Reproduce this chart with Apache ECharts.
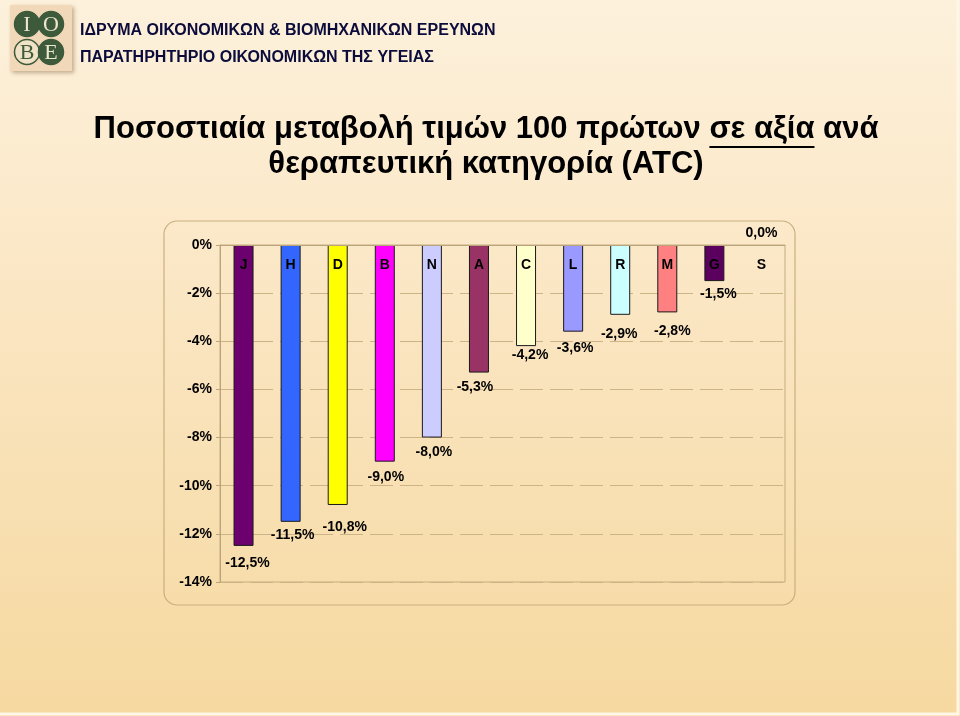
<!DOCTYPE html>
<html>
<head>
<meta charset="utf-8">
<script src="https://cdn.jsdelivr.net/npm/echarts@6/dist/echarts.min.js"></script>
<style>
  html, body { margin: 0; padding: 0; }
  #chart { width: 960px; height: 716px; }
</style>
</head>
<body>
<div id="chart"></div>
<script>
// ATC categories and % price change
const categories = ["J", "H", "D", "B", "N", "A", "C", "L", "R", "M", "G", "S"];
const changes = [-12.5, -11.5, -10.8, -9.0, -8.0, -5.3, -4.2, -3.6, -2.9, -2.8, -1.5, 0.0];
const barColors = ["#6c006e", "#3366ff", "#ffff00", "#ff00ff", "#ccccff", "#993366",
  "#ffffcc", "#9999ff", "#ccffff", "#ff8080", "#5c0060", "#ffffff"];
// label nudges [dx, dy] (the excel labels were moved by hand)
const labelShift = [[4, 5], [2, 1], [7, 10], [1, 3], [2, 3], [-4, 3], [4, -3], [2, 4], [-1, 7], [5, 7], [4, 1], [0, -24]];

const headerLines = ["ΙΔΡΥΜΑ ΟΙΚΟΝΟΜΙΚΩΝ & ΒΙΟΜΗΧΑΝΙΚΩΝ ΕΡΕΥΝΩΝ", "ΠΑΡΑΤΗΡΗΤΗΡΙΟ ΟΙΚΟΝΟΜΙΚΩΝ ΤΗΣ ΥΓΕΙΑΣ"];
const titleStart = "Ποσοστιαία μεταβολή τιμών 100 πρώτων ";
const titleUnder = "σε αξία";
const titleEnd = " ανά";
const titleLine2 = "θεραπευτική κατηγορία (ATC)";

const FONT = "'Liberation Sans', Arial, sans-serif";
const fmt = (v) => v.toFixed(1).replace(".", ",") + "%";

// measure the title to place the underline
const ctx = document.createElement("canvas").getContext("2d");
const titleFont = "bold 31px " + FONT;
ctx.font = titleFont;
const wStart = ctx.measureText(titleStart).width;
const wUnder = ctx.measureText(titleUnder).width;
const wAll = ctx.measureText(titleStart + titleUnder + titleEnd).width;
const titleCx = 486;
const underX = titleCx - wAll / 2 + wStart;

const logoCircles = [
  { x: 27, y: 24, t: "I", dark: true },
  { x: 51, y: 24, t: "O", dark: true },
  { x: 27, y: 52, t: "B", dark: false },
  { x: 51, y: 52, t: "E", dark: true },
];

const chart = echarts.init(document.getElementById("chart"));
chart.setOption({
  backgroundColor: {
    type: "linear", x: 0, y: 0, x2: 0, y2: 1,
    colorStops: [
      { offset: 0, color: "#fdf1dc" },
      { offset: 0.5, color: "#fae4be" },
      { offset: 1, color: "#f6d9a0" },
    ],
  },
  textStyle: { fontFamily: FONT },
  animation: false,
  grid: { left: 220, top: 245, right: 175, bottom: 134, show: true, borderColor: "#c4ad80", borderWidth: 1 },
  xAxis: {
    type: "category",
    position: "top",
    z: 10,
    data: categories,
    axisLine: { lineStyle: { color: "#b9a47c", width: 1 } },
    axisTick: { inside: true, length: 5, lineStyle: { color: "#b9a47c" } },
    axisLabel: { inside: true, margin: 13, color: "#000", fontSize: 14, fontWeight: "bold", fontFamily: FONT },
  },
  yAxis: {
    type: "value",
    min: -14,
    max: 0,
    interval: 2,
    axisLine: { show: true, lineStyle: { color: "#b9a47c" } },
    axisTick: { show: true, length: 4, lineStyle: { color: "#b9a47c" } },
    axisLabel: { margin: 8, color: "#000", fontSize: 14, fontWeight: "bold", fontFamily: FONT, formatter: (v) => v + "%" },
    splitLine: { lineStyle: { color: "#cdb486", type: [23, 7], width: 1 } },
  },
  series: [
    {
      type: "bar",
      barWidth: 20,
      data: changes.map((v, i) => ({
        value: v,
        itemStyle: { color: barColors[i], borderColor: i === 11 ? "transparent" : "#1a1a1a", borderWidth: 1 },
        label: { offset: labelShift[i] },
      })),
      label: {
        show: true,
        position: "bottom",
        distance: 5,
        color: "#000",
        fontSize: 14,
        fontWeight: "bold",
        fontFamily: FONT,
        formatter: (p) => fmt(p.value),
      },
    },
  ],
  graphic: [
    // chart frame
    { type: "rect", shape: { x: 164, y: 221, width: 631, height: 384, r: 13 },
      style: { fill: "none", stroke: "#c8b07e", lineWidth: 1.2 }, silent: true },
    // slide edge
    { type: "polyline", shape: { points: [[958, 0], [958, 714], [0, 714]] },
      style: { stroke: "#fff6e6", lineWidth: 3, fill: "none" }, silent: true },
    // logo
    { type: "rect", shape: { x: 10, y: 5, width: 62, height: 66 },
      style: { fill: "#f1d8b8", shadowBlur: 4, shadowColor: "rgba(120,90,50,0.45)", shadowOffsetX: 2, shadowOffsetY: 2 } },
    ...logoCircles.map((c) => ({
      type: "group",
      children: [
        { type: "circle", shape: { cx: c.x, cy: c.y, r: 12.5 },
          style: { fill: c.dark ? "#3d5a3b" : "#efe2c6", stroke: "#3d5a3b", lineWidth: 1.5 } },
        { type: "text", x: c.x, y: c.y + 1,
          style: { text: c.t, fill: c.dark ? "#efe6d0" : "#3d5a3b", font: "22px 'Liberation Serif', 'DejaVu Serif', serif",
            align: "center", verticalAlign: "middle" } },
      ],
    })),
    // header
    { type: "text", x: 80, y: 31, style: { text: headerLines[0], fill: "#0c0c3c", font: "bold 16px " + FONT, verticalAlign: "middle" } },
    { type: "text", x: 80, y: 58, style: { text: headerLines[1], fill: "#0c0c3c", font: "bold 16px " + FONT, verticalAlign: "middle" } },
    // title
    { type: "text", x: titleCx, y: 129, style: { text: titleStart + titleUnder + titleEnd, fill: "#000", font: titleFont, align: "center", verticalAlign: "middle" } },
    { type: "line", shape: { x1: underX, y1: 147, x2: underX + wUnder, y2: 147 }, style: { stroke: "#000", lineWidth: 2 } },
    { type: "text", x: titleCx, y: 164, style: { text: titleLine2, fill: "#000", font: titleFont, align: "center", verticalAlign: "middle" } },
  ],
});
</script>
</body>
</html>
